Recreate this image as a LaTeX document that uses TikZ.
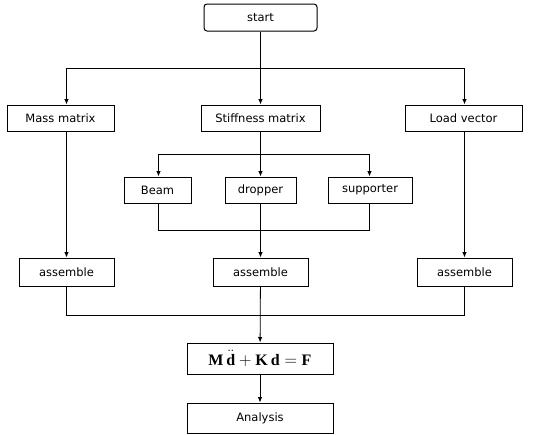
\documentclass[tikz,border=0pt]{standalone}
\usepackage{fontspec}
\setmainfont{DejaVu Sans}
\setmathrm{Liberation Serif}
\setboldmathrm{Liberation Serif}
\usepackage{tikz}
\usetikzlibrary{arrows.meta,positioning,calc}
\tikzset{
  box/.style={draw=black,line width=1pt,fill=white,align=center,font=\fontsize{11.5}{13}\selectfont,inner sep=0pt,minimum height=26pt},
  rbox/.style={box,rounded corners=3pt},
  eqbox/.style={box,font=\fontsize{16}{18}\selectfont},
  arrow/.style={-{Latex[length=5.5pt,width=4.5pt]},line width=0.8pt,draw=black},
  link/.style={line width=0.8pt,draw=black}
}
\begin{document}
\begin{tikzpicture}[x=1pt,y=-1pt]
  \useasboundingbox (0,0) rectangle (535,434);
  % top level
  \node[rbox,minimum width=113pt,minimum height=27pt] (start) at (260.5,17.5) {start};
  \node[box,minimum width=107pt] (mass) at (60.5,118) {Mass matrix};
  \node[box,minimum width=119pt] (stiff) at (260.5,118) {Stiffness matrix};
  \node[box,minimum width=117pt] (load) at (463.5,118) {Load vector};
  % stiffness parts
  \node[box,minimum width=67pt] (beam) at (157.5,190) {Beam};
  \node[box,minimum width=71pt] (dropper) at (260.5,190) {dropper};
  \node[box,minimum width=84pt] (supporter) at (370,190) {supporter};
  % assembly
  \node[box,minimum width=95pt,minimum height=28pt] (asmL) at (66.5,272) {assemble};
  \node[box,minimum width=95pt,minimum height=28pt] (asmM) at (260.5,272) {assemble};
  \node[box,minimum width=95pt,minimum height=28pt] (asmR) at (464.5,272) {assemble};
  \node[eqbox,minimum width=146pt,minimum height=31pt] (eq) at (260,358.5) {$\mathbf{M}\,\ddot{\mathbf{d}} + \mathbf{K}\,\mathbf{d} = \mathbf{F}$};
  \node[box,minimum width=146pt,minimum height=30pt] (analysis) at (260,418) {Analysis};
  % branch points
  \coordinate (split) at (260.5,68.5);
  \coordinate (splitS) at (260.5,154.5);
  \coordinate (joinS) at (260.5,230.5);
  \coordinate (joinA) at (260.5,315.5);
  \draw[link] (start) -- (split);
  \draw[arrow] (split) -| (mass.north -| asmL);
  \draw[arrow] (split) -- (stiff);
  \draw[arrow] (split) -| (load.north -| asmR);
  \draw[link] (stiff) -- (splitS);
  \draw[arrow] (splitS) -| (beam.north -| 158.5,0);
  \draw[arrow] (splitS) -- (dropper);
  \draw[arrow] (splitS) -| (supporter.north -| 369.5,0);
  \draw[link] (beam.south -| 158.5,0) |- (joinS) -| (supporter.south -| 369.5,0);
  \draw[arrow] (dropper) -- (asmM);
  \draw[arrow] (mass.south -| asmL) -- (asmL);
  \draw[arrow] (load.south -| asmR) -- (asmR);
  \draw[link] (asmL) |- (joinA) -| (asmR);
  \draw[arrow] (asmM) -- (eq);
  \draw[arrow] (eq) -- (analysis);
\end{tikzpicture}
\end{document}
